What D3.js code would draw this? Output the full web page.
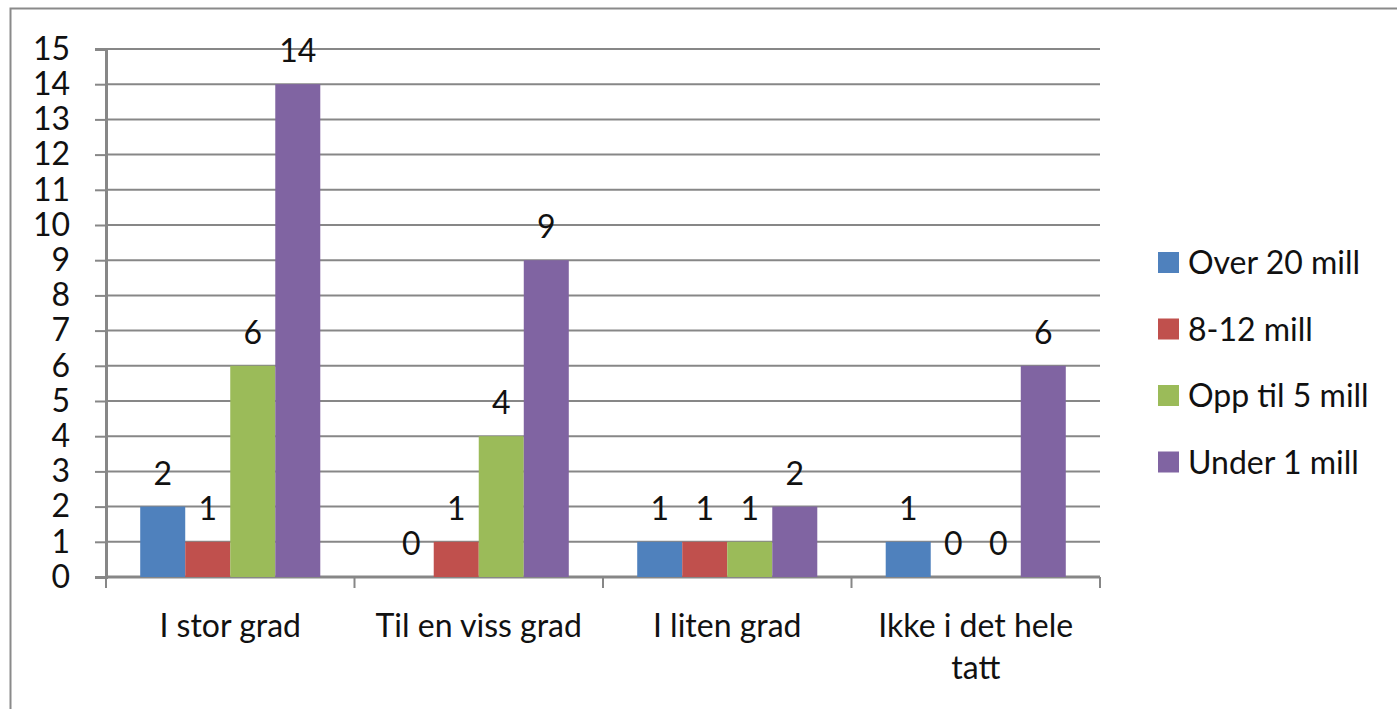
<!DOCTYPE html>
<html>
<head>
<meta charset="utf-8">
<script src="https://cdn.jsdelivr.net/npm/d3@7"></script>
<style>
  body { margin: 0; background: #fff; }
  svg text { font-family: Lato, "Open Sans", sans-serif; fill: #111; }
</style>
</head>
<body>
<svg></svg>
<script>
// chart data
const categories = ['I stor grad', 'Til en viss grad', 'I liten grad', 'Ikke i det hele tatt'];
const seriesNames = ['Over 20 mill', '8-12 mill', 'Opp til 5 mill', 'Under 1 mill'];
const overTwenty = [2, 0, 1, 1];
const eightTwelve = [1, 1, 1, 0];
const uptoFive = [6, 4, 1, 0];
const underOne = [14, 9, 2, 6];
const yTicks = d3.range(0, 16);
const colors = ['#4f81bd', '#c0504d', '#9bbb59', '#8064a2'];

const seriesValues = [overTwenty, eightTwelve, uptoFive, underOne];

let width = 1397;
let height = 709;
let margin = {left: 106, right: 297, top: 49, bottom: 132};
let fontSize = '32px';

let svg = d3.select('svg')
            .attr('width', width)
            .attr('height', height);

// outer frame
svg.append('rect')
    .attr('x', 10.5)
    .attr('y', 8.5)
    .attr('width', width + 20)
    .attr('height', height + 20)
    .attr('fill', 'none')
    .attr('stroke', '#8a8a8a')
    .attr('stroke-width', 2);

let xScale = d3.scaleBand()
               .domain(categories)
               .range([margin.left, width - margin.right]);

let xInner = d3.scaleBand()
               .domain(seriesNames)
               .range([0, xScale.bandwidth()])
               .paddingOuter(0.76);

let yScale = d3.scaleLinear()
               .domain([0, 15])
               .range([height - margin.bottom, margin.top]);

// gridlines
svg.append('g')
    .selectAll('line')
    .data(yTicks.filter(d => d > 0))
    .enter()
    .append('line')
    .attr('x1', margin.left)
    .attr('x2', width - margin.right)
    .attr('y1', d => yScale(d))
    .attr('y2', d => yScale(d))
    .attr('stroke', '#878787')
    .attr('stroke-width', 2);

// y axis
let yAxis = d3.axisLeft(yScale)
              .tickValues(yTicks)
              .tickSize(11)
              .tickPadding(25)
              .tickFormat(d3.format('d'));

let gy = svg.append('g')
    .attr('transform', `translate(${margin.left},0)`)
    .call(yAxis);
gy.select('.domain').attr('stroke', '#878787').attr('stroke-width', 3);
gy.selectAll('line').attr('stroke', '#878787').attr('stroke-width', 2);
gy.selectAll('text').style('font-size', fontSize).attr('fill', '#111');

// x axis
let catTicks = categories.map(c => xScale(c)).concat([width - margin.right]);
svg.append('line')
    .attr('x1', margin.left)
    .attr('x2', width - margin.right)
    .attr('y1', yScale(0))
    .attr('y2', yScale(0))
    .attr('stroke', '#878787')
    .attr('stroke-width', 3);
svg.append('g')
    .selectAll('line')
    .data(catTicks)
    .enter()
    .append('line')
    .attr('x1', d => d)
    .attr('x2', d => d)
    .attr('y1', yScale(0))
    .attr('y2', yScale(0) + 11)
    .attr('stroke', '#878787')
    .attr('stroke-width', 2);

// category labels
let catLines = [['I stor grad'], ['Til en viss grad'], ['I liten grad'], ['Ikke i det hele', 'tatt']];
categories.forEach((c, i) => {
  let t = svg.append('text')
      .attr('x', xScale(c) + xScale.bandwidth() / 2)
      .attr('y', 637)
      .style('font-size', fontSize)
      .style('text-anchor', 'middle');
  catLines[i].forEach((line, j) => {
    t.append('tspan')
      .attr('x', xScale(c) + xScale.bandwidth() / 2)
      .attr('dy', j === 0 ? 0 : 42)
      .text(line);
  });
});

// bars
let groups = svg.selectAll('.grp')
    .data(categories)
    .enter()
    .append('g')
    .attr('transform', d => `translate(${xScale(d)},0)`);

groups.selectAll('rect')
    .data((d, i) => seriesNames.map((s, k) => ({s: s, v: seriesValues[k][i], k: k})))
    .enter()
    .append('rect')
    .attr('x', d => xInner(d.s))
    .attr('width', xInner.bandwidth())
    .attr('y', d => yScale(d.v))
    .attr('height', d => yScale(0) - yScale(d.v))
    .attr('fill', d => colors[d.k]);

groups.selectAll('text')
    .data((d, i) => seriesNames.map((s, k) => ({s: s, v: seriesValues[k][i], k: k})))
    .enter()
    .append('text')
    .attr('x', d => xInner(d.s) + xInner.bandwidth() / 2)
    .attr('y', d => yScale(d.v) - 22)
    .style('font-size', fontSize)
    .style('text-anchor', 'middle')
    .text(d => d.v);

// legend
let legend = svg.append('g')
    .attr('transform', 'translate(1158,252)');
seriesNames.forEach((s, i) => {
  legend.append('rect')
      .attr('x', 0)
      .attr('y', i * 66.5)
      .attr('width', 21)
      .attr('height', 21)
      .attr('fill', colors[i]);
  legend.append('text')
      .attr('x', 30)
      .attr('y', i * 66.5 + 22)
      .style('font-size', fontSize)
      .text(s);
});
</script>
</body>
</html>
